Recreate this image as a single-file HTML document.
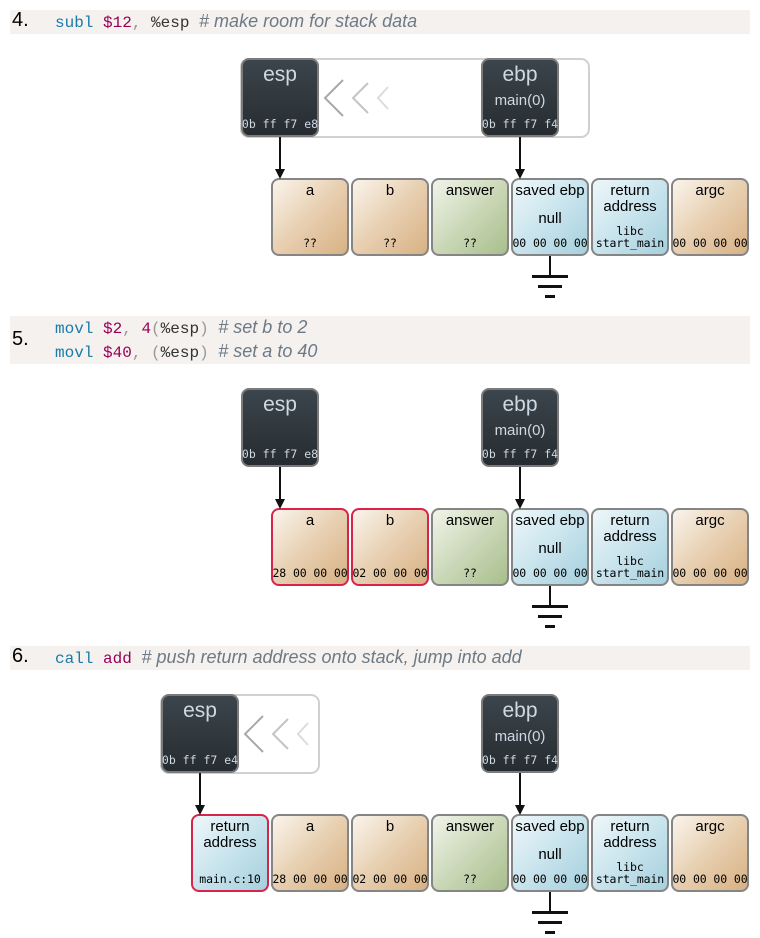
<!DOCTYPE html>
<html><head><meta charset="utf-8"><style>
body{margin:0;width:760px;height:938px;background:#fff;position:relative;font-family:"Liberation Sans",sans-serif;overflow:hidden}
.hd{position:absolute;left:10px;width:740px;background:#f4f1ee}
.num{position:absolute;left:2px;font-size:20px;color:#000}
.code{position:absolute;left:45px;font-family:"Liberation Mono",monospace;font-size:16px;color:#333;white-space:pre;line-height:20px}
.k{color:#1a7aa8}.v{color:#990055}.p{color:#999}.c{color:#6d7a86;font-style:italic;font-family:"Liberation Sans",sans-serif;font-size:18px}
.cell{position:absolute;width:78px;height:78px;box-sizing:border-box;border:2px solid #858585;border-radius:8px;text-align:center;color:#000;font-size:15px;line-height:16px}
.cell .t{position:absolute;top:3px;left:0;right:0}
.cell .m{position:absolute;top:31px;left:0;right:0}
.cell .b{position:absolute;bottom:5px;left:-4px;right:-4px;font-family:"DejaVu Sans Mono","Liberation Mono",monospace;font-size:11.5px;line-height:12px;letter-spacing:-0.1px}
.tan{background:linear-gradient(135deg,#faf4ec 0%,#e7cfb0 50%,#d8b184 100%)}
.grn{background:linear-gradient(135deg,#f1f4ea 0%,#cbd8b8 50%,#a8bf8c 100%)}
.blu{background:linear-gradient(135deg,#eef7fa 0%,#c9e4ed 50%,#a5d0de 100%)}
.red{border-color:#d8234a}
.reg{position:absolute;width:78px;height:79px;box-sizing:border-box;border:2px solid #7b7b7b;border-radius:8px;background:linear-gradient(180deg,#3c454c,#262c31);text-align:center;color:#cdd9e3}
.reg .t{position:absolute;top:3px;left:0;right:0;font-size:21px}
.reg .s{position:absolute;top:32px;left:0;right:0;font-size:15px}
.reg .b{position:absolute;bottom:4px;left:-4px;right:-4px;font-family:"DejaVu Sans Mono","Liberation Mono",monospace;font-size:11.5px}
.out{position:absolute;box-sizing:border-box;border:2px solid #d0d0d0;border-radius:9px}
svg{position:absolute;left:0;top:0}
</style></head><body>

<div class="hd" style="top:10px;height:24px"><span class="num" style="top:-1px">4.</span><span class="code" style="top:1px"><span class="k">subl</span> <span class="v">$12</span><span class="p">,</span> %esp <span class="c"># make room for stack data</span></span></div>
<div class="hd" style="top:316px;height:48px"><span class="num" style="top:12px">5.</span><span class="code" style="top:1px"><span class="k">movl</span> <span class="v">$2</span><span class="p">,</span> <span class="v">4</span><span class="p">(</span>%esp<span class="p">)</span> <span class="c"># set b to 2</span></span><span class="code" style="top:25px"><span class="k">movl</span> <span class="v">$40</span><span class="p">,</span> <span class="p">(</span>%esp<span class="p">)</span> <span class="c"># set a to 40</span></span></div>
<div class="hd" style="top:646px;height:24px"><span class="num" style="top:-1px">6.</span><span class="code" style="top:1px"><span class="k">call</span> <span class="v">add</span> <span class="c"># push return address onto stack, jump into add</span></span></div>

<!-- section 1 -->
<div class="out" style="left:240px;top:58px;width:350px;height:80px"></div>
<div class="reg" style="left:241px;top:58px"><div class="t">esp</div><div class="b">0b ff f7 e8</div></div>
<div class="reg" style="left:481px;top:58px"><div class="t">ebp</div><div class="s">main(0)</div><div class="b">0b ff f7 f4</div></div>
<div class="cell tan" style="left:271px;top:178px"><div class="t">a</div><div class="b">??</div></div>
<div class="cell tan" style="left:351px;top:178px"><div class="t">b</div><div class="b">??</div></div>
<div class="cell grn" style="left:431px;top:178px"><div class="t">answer</div><div class="b">??</div></div>
<div class="cell blu" style="left:511px;top:178px"><div class="t">saved ebp</div><div class="m">null</div><div class="b">00 00 00 00</div></div>
<div class="cell blu" style="left:591px;top:178px"><div class="t">return<br>address</div><div class="b">libc<br>start_main</div></div>
<div class="cell tan" style="left:671px;top:178px"><div class="t">argc</div><div class="b">00 00 00 00</div></div>

<!-- section 2 -->
<div class="reg" style="left:241px;top:388px"><div class="t">esp</div><div class="b">0b ff f7 e8</div></div>
<div class="reg" style="left:481px;top:388px"><div class="t">ebp</div><div class="s">main(0)</div><div class="b">0b ff f7 f4</div></div>
<div class="cell tan red" style="left:271px;top:508px"><div class="t">a</div><div class="b">28 00 00 00</div></div>
<div class="cell tan red" style="left:351px;top:508px"><div class="t">b</div><div class="b">02 00 00 00</div></div>
<div class="cell grn" style="left:431px;top:508px"><div class="t">answer</div><div class="b">??</div></div>
<div class="cell blu" style="left:511px;top:508px"><div class="t">saved ebp</div><div class="m">null</div><div class="b">00 00 00 00</div></div>
<div class="cell blu" style="left:591px;top:508px"><div class="t">return<br>address</div><div class="b">libc<br>start_main</div></div>
<div class="cell tan" style="left:671px;top:508px"><div class="t">argc</div><div class="b">00 00 00 00</div></div>

<!-- section 3 -->
<div class="out" style="left:160px;top:694px;width:160px;height:80px"></div>
<div class="reg" style="left:161px;top:694px"><div class="t">esp</div><div class="b">0b ff f7 e4</div></div>
<div class="reg" style="left:481px;top:694px"><div class="t">ebp</div><div class="s">main(0)</div><div class="b">0b ff f7 f4</div></div>
<div class="cell blu red" style="left:191px;top:814px"><div class="t">return<br>address</div><div class="b">main.c:10</div></div>
<div class="cell tan" style="left:271px;top:814px"><div class="t">a</div><div class="b">28 00 00 00</div></div>
<div class="cell tan" style="left:351px;top:814px"><div class="t">b</div><div class="b">02 00 00 00</div></div>
<div class="cell grn" style="left:431px;top:814px"><div class="t">answer</div><div class="b">??</div></div>
<div class="cell blu" style="left:511px;top:814px"><div class="t">saved ebp</div><div class="m">null</div><div class="b">00 00 00 00</div></div>
<div class="cell blu" style="left:591px;top:814px"><div class="t">return<br>address</div><div class="b">libc<br>start_main</div></div>
<div class="cell tan" style="left:671px;top:814px"><div class="t">argc</div><div class="b">00 00 00 00</div></div>

<svg width="760" height="938" fill="none">
<g stroke-width="2">
<polyline points="343,80 325,98 343,116" stroke="#a8a8a8"/>
<polyline points="368,83 353,98 368,113" stroke="#c4c4c4"/>
<polyline points="388,87 378,98 388,109" stroke="#dcdcdc"/>
<polyline points="263,716 245,734 263,752" stroke="#a8a8a8"/>
<polyline points="288,719 273,734 288,749" stroke="#c4c4c4"/>
<polyline points="308,723 298,734 308,745" stroke="#dcdcdc"/>
<g stroke="#111">
<line x1="280" y1="137" x2="280" y2="170"/><line x1="520" y1="137" x2="520" y2="170"/>
<line x1="280" y1="467" x2="280" y2="500"/><line x1="520" y1="467" x2="520" y2="500"/>
<line x1="200" y1="773" x2="200" y2="806"/><line x1="520" y1="773" x2="520" y2="806"/>
<line x1="550" y1="256" x2="550" y2="276"/><line x1="550" y1="586" x2="550" y2="606"/><line x1="550" y1="892" x2="550" y2="912"/>
</g>
</g>
<g fill="#111">
<polygon points="275,169 285,169 280,179"/><polygon points="515,169 525,169 520,179"/>
<polygon points="275,499 285,499 280,509"/><polygon points="515,499 525,499 520,509"/>
<polygon points="195,805 205,805 200,815"/><polygon points="515,805 525,805 520,815"/>
<rect x="532" y="275" width="36" height="3"/><rect x="538" y="285" width="24" height="3"/><rect x="545" y="295" width="10" height="3"/>
<rect x="532" y="605" width="36" height="3"/><rect x="538" y="615" width="24" height="3"/><rect x="545" y="625" width="10" height="3"/>
<rect x="532" y="911" width="36" height="3"/><rect x="538" y="921" width="24" height="3"/><rect x="545" y="931" width="10" height="3"/>
</g>
</svg>
</body></html>
